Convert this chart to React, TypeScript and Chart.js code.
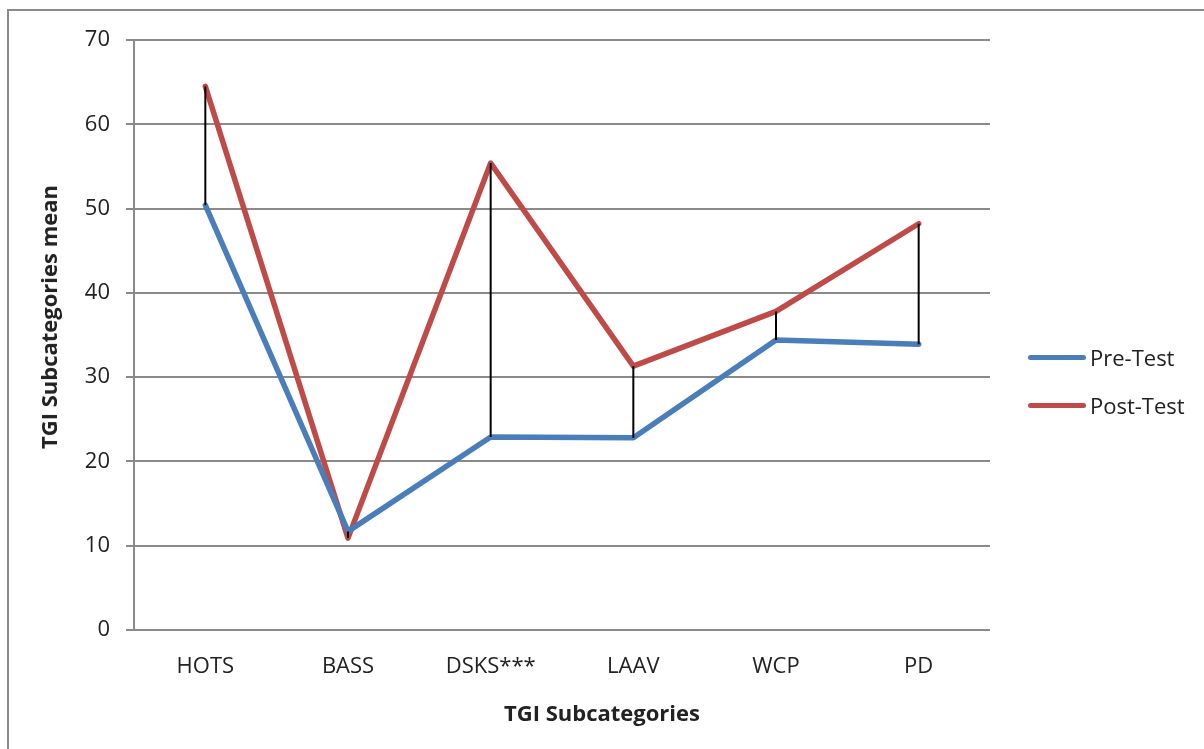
import React, { useEffect, useRef } from "react";
import { Chart, registerables } from "chart.js";

Chart.register(...registerables);

const categories = ["HOTS", "BASS", "DSKS***", "LAAV", "WCP", "PD"];
const preTest = [50.4, 11.7, 22.9, 22.8, 34.4, 33.9];
const postTest = [64.5, 10.9, 55.4, 31.3, 37.8, 48.2];
const seriesNames = ["Pre-Test", "Post-Test"];
const seriesColors = ["#4a7ebb", "#be4b48"];
const yTitle = "TGI Subcategories mean";
const xTitle = "TGI Subcategories";

const FONT = "'Open Sans', sans-serif";
const TEXT = "#222222";
const GRID = "#8a8a8a";

const highLowPlugin = {
  id: "highLow",
  afterDatasetsDraw(chart: any) {
    const m0 = chart.getDatasetMeta(0);
    const m1 = chart.getDatasetMeta(1);
    const ctx = chart.ctx;
    ctx.save();
    ctx.strokeStyle = "#000000";
    ctx.lineWidth = 2;
    for (let i = 0; i < m0.data.length; i++) {
      const a = m0.data[i];
      const b = m1.data[i];
      ctx.beginPath();
      ctx.moveTo(a.x, a.y);
      ctx.lineTo(b.x, b.y);
      ctx.stroke();
    }
    ctx.restore();
  },
};

export default function App() {
  const ref = useRef<HTMLCanvasElement | null>(null);

  useEffect(() => {
    if (!ref.current) return;
    const chart = new Chart(ref.current, {
      type: "line",
      data: {
        labels: categories,
        datasets: [
          {
            label: seriesNames[0],
            data: preTest,
            borderColor: seriesColors[0],
            backgroundColor: seriesColors[0],
            borderWidth: 5.5,
            pointRadius: 0,
            tension: 0,
            borderCapStyle: "round",
            borderJoinStyle: "round",
          },
          {
            label: seriesNames[1],
            data: postTest,
            borderColor: seriesColors[1],
            backgroundColor: seriesColors[1],
            borderWidth: 5.5,
            pointRadius: 0,
            tension: 0,
            borderCapStyle: "round",
            borderJoinStyle: "round",
          },
        ],
      },
      options: {
        responsive: false,
        animation: false,
        devicePixelRatio: 1,
        layout: { padding: { left: 10, top: 40, right: 214, bottom: 9 } },
        plugins: {
          legend: { display: false },
          tooltip: { enabled: false },
        },
        scales: {
          x: {
            offset: true,
            grid: { display: false },
            border: { display: false },
            ticks: {
              color: TEXT,
              font: { family: FONT, size: 22 },
              padding: 16,
              maxRotation: 0,
            },
            afterFit(scale: any) {
              scale.height = 110;
            },
          },
          y: {
            min: 0,
            max: 70,
            grid: {
              color: GRID,
              lineWidth: 2,
              drawTicks: true,
              tickLength: 8,
            },
            border: { display: true, color: GRID, width: 2 },
            ticks: {
              stepSize: 10,
              color: TEXT,
              font: { family: FONT, size: 22 },
              padding: 16,
            },
            afterFit(scale: any) {
              scale.width = 124;
            },
          },
        },
      },
      plugins: [highLowPlugin],
    });
    return () => chart.destroy();
  }, []);

  return (
    <div
      style={{
        position: "fixed",
        left: 0,
        top: 0,
        width: 1204,
        height: 749,
        overflow: "hidden",
        background: "#ffffff",
      }}
    >
      <div
        style={{
          position: "absolute",
          left: 7,
          top: 9,
          width: 3000,
          height: 3000,
          border: "2px solid #8a8a8a",
        }}
      />
      <canvas
        ref={ref}
        width={1204}
        height={749}
        style={{ position: "absolute", left: 0, top: 0, width: 1204, height: 749 }}
      />
      <div
        style={{
          position: "absolute",
          left: 48,
          top: 317,
          transform: "translate(-50%, -50%) rotate(-90deg)",
          whiteSpace: "nowrap",
          fontFamily: FONT,
          fontWeight: 700,
          fontSize: 22,
          lineHeight: 1,
          color: TEXT,
        }}
      >
        {yTitle}
      </div>
      <div
        style={{
          position: "absolute",
          left: 602,
          top: 712,
          transform: "translate(-50%, -50%)",
          whiteSpace: "nowrap",
          fontFamily: FONT,
          fontWeight: 700,
          fontSize: 22,
          lineHeight: 1,
          color: TEXT,
        }}
      >
        {xTitle}
      </div>
      {seriesNames.map((name, i) => (
        <div
          key={name}
          style={{
            position: "absolute",
            left: 1028,
            top: 357 + i * 48,
            transform: "translateY(-50%)",
            display: "flex",
            alignItems: "center",
            whiteSpace: "nowrap",
            fontFamily: FONT,
            fontSize: 22,
            lineHeight: 1,
            color: TEXT,
          }}
        >
          <div
            style={{
              width: 58,
              height: 5,
              borderRadius: 3,
              background: seriesColors[i],
              marginRight: 4,
            }}
          />
          <span>{name}</span>
        </div>
      ))}
    </div>
  );
}
